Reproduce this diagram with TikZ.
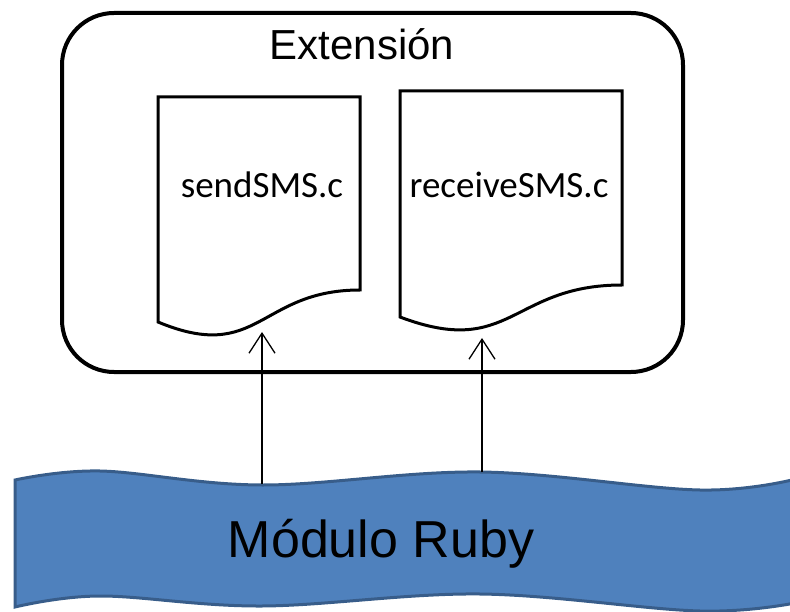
\documentclass[tikz,border=0pt]{standalone}
\usepackage{fontspec}
\setmainfont{Liberation Sans}
\newfontfamily\calibri{Carlito}
\usetikzlibrary{arrows.meta}
\definecolor{rubyfill}{HTML}{4F81BD}
\definecolor{rubyedge}{HTML}{385D8A}
\begin{document}
\begin{tikzpicture}[x=1pt,y=-1pt,
		doc/.style={draw,line width=3pt,fill=white,line join=miter},
		file/.style={anchor=base,font=\calibri\fontsize{37}{44}\selectfont},
		call/.style={line width=1.3pt,-{Straight Barb[length=20pt,width=26pt]}}]
	\useasboundingbox (0,0) rectangle (790,612);
	\clip (0,0) rectangle (790,612);
	\draw[line width=4pt,rounded corners=52pt] (62,13) rectangle (683,372);
	\node[anchor=base,font=\fontsize{42}{50}\selectfont] (ext) at (362,60) {Extensión};
	\draw[doc] (158,97) -- (360,97) -- (360,290) .. controls (259,290) and (259,364) .. (158,322) -- cycle;
	\draw[doc] (400,91) -- (622,91) -- (622,285) .. controls (511,285) and (511,359) .. (400,317) -- cycle;
	\node[file] (send) at (262,198) {sendSMS.c};
	\node[file] (recv) at (509,198) {receiveSMS.c};
	\draw[fill=rubyfill,draw=rubyedge,line width=3pt]
		plot[smooth,tension=0.6] coordinates {(15,480) (100,471) (262,485) (480,472) (700,490) (800,478)}
		-- plot[smooth,tension=0.6] coordinates {(800,602) (700,611) (480,594) (262,606) (100,596) (15,607)}
		-- cycle;
	\node[anchor=base,font=\fontsize{52}{60}\selectfont] (ruby) at (381,557) {Módulo Ruby};
	\coordinate (sendIn) at (262,332);
	\coordinate (sendOut) at (262,484);
	\coordinate (recvIn) at (482,338);
	\coordinate (recvOut) at (482,472);
	\draw[call] (sendOut) -- (sendIn);
	\draw[call] (recvOut) -- (recvIn);
\end{tikzpicture}
\end{document}
